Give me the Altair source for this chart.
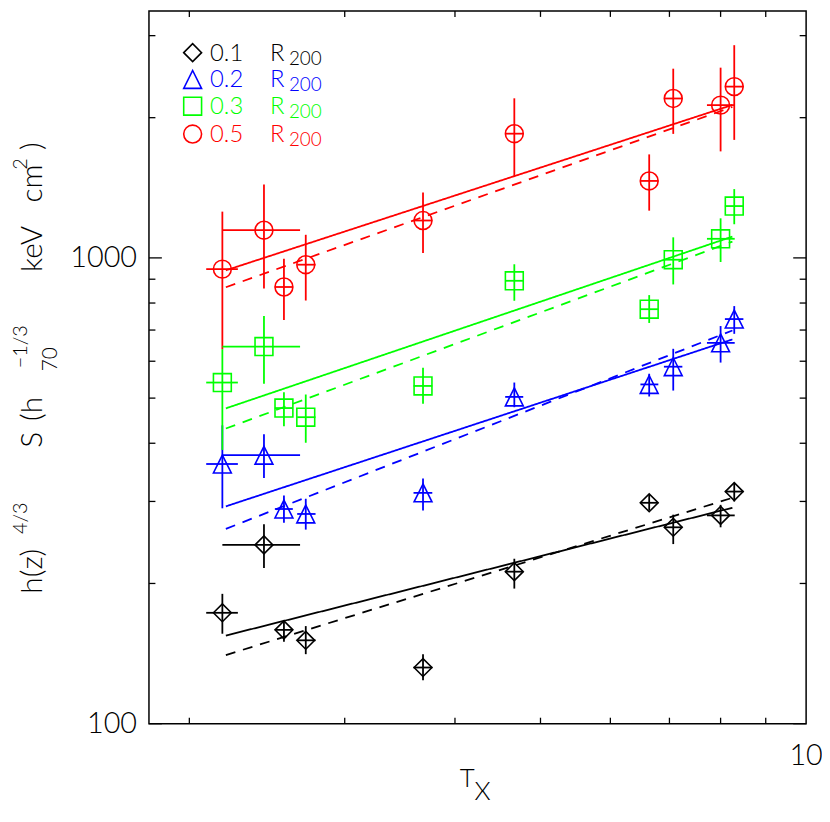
import altair as alt
import pandas as pd

# ---------------- data ----------------
groups = ["0.1", "0.2", "0.3", "0.5"]
colors = ["#000000", "#0000ff", "#00ff00", "#ff0000"]
shapes = ["diamond", "M0,-1L1,1L-1,1Z", "square", "circle"]

# temperature of each cluster (keV) and its horizontal error bar
T = [2.18, 2.43, 2.56, 2.71, 3.68, 4.67, 6.64, 7.07, 8.00, 8.29]
T_lo = [2.09, 2.18, 2.50, 2.65, 3.59, 4.56, 6.49, 6.90, 7.72, 8.09]
T_hi = [2.27, 2.67, 2.62, 2.78, 3.77, 4.78, 6.80, 7.24, 8.30, 8.49]

S_01 = [173, 242, 159, 151, 132, 212, 298, 264, 280, 315]
S_01_lo = [156, 216, 150, 141, 124, 195, 287, 243, 264, 300]
S_01_hi = [190, 268, 167, 162, 141, 226, 310, 281, 295, 329]

S_02 = [361, 377, 289, 282, 313, 503, 535, 584, 657, 739]
S_02_lo = [290, 337, 270, 261, 287, 478, 504, 519, 596, 687]
S_02_hi = [437, 418, 309, 304, 336, 540, 564, 638, 714, 788]

S_03 = [540, 645, 476, 455, 531, 893, 776, 991, 1099, 1292]
S_03_lo = [387, 537, 435, 401, 486, 809, 725, 877, 980, 1181]
S_03_hi = [637, 750, 515, 509, 581, 969, 832, 1107, 1216, 1405]

S_05 = [946, 1147, 866, 967, 1203, 1848, 1463, 2199, 2128, 2332]
S_05_lo = [637, 860, 736, 810, 1025, 1495, 1263, 1846, 1693, 1792]
S_05_hi = [1257, 1437, 996, 1121, 1381, 2201, 1668, 2548, 2561, 2862]

# fitted relations (end points)
fit_T = [2.2, 8.25]
fit_solid = {"0.1": [154.6, 290.8], "0.2": [292.8, 668.3],
             "0.3": [475.3, 1111.0], "0.5": [940.4, 2130.0]}
fit_dashed = {"0.1": [140.4, 305.4], "0.2": [262.0, 698.5],
              "0.3": [430.2, 1084.0], "0.5": [865.0, 2109.0]}

# axis ticks and labels
x_minor_ticks = [2, 3, 4, 5, 6, 7, 8, 9]
x_label_values = [10]
y_major_ticks = [100, 1000]
y_minor_ticks = [200, 300, 400, 500, 600, 700, 800, 900, 2000, 3000]

# ---------------- tables ----------------
series = {"0.1": (S_01, S_01_lo, S_01_hi), "0.2": (S_02, S_02_lo, S_02_hi),
          "0.3": (S_03, S_03_lo, S_03_hi), "0.5": (S_05, S_05_lo, S_05_hi)}
rows = []
for g in groups:
    s, lo, hi = series[g]
    for i in range(len(T)):
        rows.append(dict(grp=g, T=T[i], Tlo=T_lo[i], Thi=T_hi[i],
                         S=s[i], Slo=lo[i], Shi=hi[i]))
df = pd.DataFrame(rows)

fit_rows = []
for g in groups:
    for style, table in (("solid", fit_solid), ("dashed", fit_dashed)):
        for t, s in zip(fit_T, table[g]):
            fit_rows.append(dict(grp=g, style=style, T=t, S=s))
fit_df = pd.DataFrame(fit_rows)

# ---------------- layout ----------------
W, H = 662, 718
OX, OY = 150, 8          # page position of the plot's top-left corner
FONT = "Lato"
FW = 300

xs = alt.Scale(type="log", domain=[1.8, 10], nice=False)
ys = alt.Scale(type="log", domain=[100, 3390], nice=False)
col = alt.Color("grp:N", scale=alt.Scale(domain=groups, range=colors), legend=None)

vbars = alt.Chart(df).mark_rule(strokeWidth=1.8).encode(
    x=alt.X("T:Q", scale=xs, axis=None),
    y=alt.Y("Slo:Q", scale=ys, axis=None),
    y2="Shi:Q",
    color=col,
)
hbars = alt.Chart(df).mark_rule(strokeWidth=1.8).encode(
    x=alt.X("Tlo:Q", scale=xs, axis=None),
    x2="Thi:Q",
    y=alt.Y("S:Q", scale=ys, axis=None),
    color=col,
)
points = alt.Chart(df).mark_point(filled=False, size=324, strokeWidth=1.6, opacity=1).encode(
    x=alt.X("T:Q", scale=xs, axis=None),
    y=alt.Y("S:Q", scale=ys, axis=None),
    color=col,
    shape=alt.Shape("grp:N", scale=alt.Scale(domain=groups, range=shapes), legend=None),
)
lines = alt.Chart(fit_df).mark_line(strokeWidth=1.8).encode(
    x=alt.X("T:Q", scale=xs, axis=None),
    y=alt.Y("S:Q", scale=ys, axis=None),
    color=col,
    strokeDash=alt.StrokeDash("style:N",
                              scale=alt.Scale(domain=["solid", "dashed"], range=[[1, 0], [10, 8]]),
                              legend=None),
)

# inward tick marks on all four sides
def xticks(vals, y0, y1):
    return alt.Chart(pd.DataFrame({"v": vals})).mark_rule(color="black", strokeWidth=1.3).encode(
        x=alt.X("v:Q", scale=xs, axis=None), y=alt.value(y0), y2=alt.value(y1))

def yticks(vals, x0, x1):
    return alt.Chart(pd.DataFrame({"v": vals})).mark_rule(color="black", strokeWidth=1.3).encode(
        y=alt.Y("v:Q", scale=ys, axis=None), x=alt.value(x0), x2=alt.value(x1))

ticks = [
    xticks(x_minor_ticks, H - 6, H), xticks(x_minor_ticks, 0, 6),
    yticks(y_minor_ticks, 0, 6.5), yticks(y_major_ticks, 0, 13),
    yticks(y_minor_ticks, W - 6.5, W), yticks(y_major_ticks, W - 13, W),
]

# tick labels placed through the scales
ylabels = alt.Chart(pd.DataFrame({"v": y_major_ticks})).mark_text(
    align="right", baseline="middle", font=FONT, fontWeight=FW, fontSize=29, color="black"
).encode(y=alt.Y("v:Q", scale=ys, axis=None), x=alt.value(-12),
         text=alt.Text("v:Q", format="d"))
xlabels = alt.Chart(pd.DataFrame({"v": x_label_values})).mark_text(
    align="center", baseline="top", font=FONT, fontWeight=FW, fontSize=29, color="black"
).encode(x=alt.X("v:Q", scale=xs, axis=None), y=alt.value(H + 19),
         text=alt.Text("v:Q", format="d"))

one = pd.DataFrame({"a": [0]})

def txt(text, px, py, size, color="black", angle=None):
    kw = dict(text=text, fontSize=size, font=FONT, fontWeight=FW, color=color,
              align="left", baseline="alphabetic")
    if angle is not None:
        kw["angle"] = angle
    return alt.Chart(one).mark_text(**kw).encode(x=alt.value(px - OX), y=alt.value(py - OY))

# y title (rotated) built from pieces with super/subscripts
ytitle = [
    txt("h(z)", 42, 595, 30, angle=270),
    txt("4/3", 27, 535, 20, angle=270),
    txt("S", 42, 448, 30, angle=270),
    txt("(h", 42, 421, 30, angle=270),
    txt("70", 57, 371, 21, angle=270),
    txt("\u22121/3", 27, 368, 20, angle=270),
    txt("keV", 42, 271, 30, angle=270),
    txt("cm", 42, 201, 30, angle=270),
    txt("2", 27, 168, 20, angle=270),
    txt(")", 42, 148, 30, angle=270),
]

# x title
xtitle = [
    txt("T", 463, 790, 26),
    txt("X", 478, 803, 26),
]

# legend
legend = []
baselines = [58, 85, 112, 140]
for g, c, shp, b in zip(groups, colors, shapes, baselines):
    legend.append(
        alt.Chart(one).mark_point(shape=shp, size=324, filled=False, color=c,
                                  strokeWidth=1.6, opacity=1).encode(
            x=alt.value(194 - OX), y=alt.value(b - 8 - OY)))
    legend.append(txt(g, 211.5, b, 24, c))
    legend.append(txt("R", 272, b, 24, c))
    legend.append(txt("200", 291, b + 4, 19, c))

chart = alt.layer(
    vbars, hbars, lines, points, *ticks, ylabels, xlabels, *ytitle, *xtitle, *legend
).properties(
    width=W, height=H,
    padding={"left": OX - 8, "top": OY - 8, "right": 16, "bottom": 84},
    autosize=alt.AutoSizeParams(type="none"),
    background="white",
).configure_view(stroke="black", strokeWidth=1.5)

chart.save("out.html", embed_options={"renderer": "svg", "actions": False})
